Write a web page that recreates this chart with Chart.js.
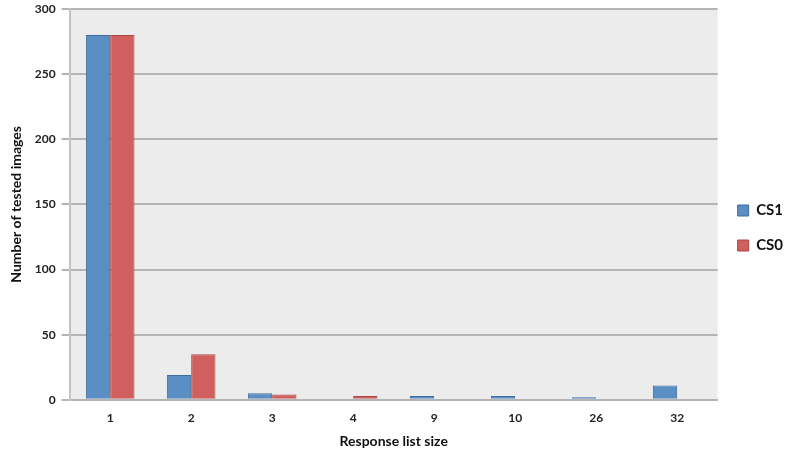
<!DOCTYPE html>
<html>
<head>
<meta charset="utf-8">
<script src="https://cdn.jsdelivr.net/npm/chart.js@4"></script>
<style>
  html, body { margin: 0; padding: 0; background: #fff; }
  #wrap { width: 797px; height: 456px; }
</style>
</head>
<body>
<div id="wrap"><canvas id="my-chart" width="797" height="456"></canvas></div>
<script>
const labels = ['1', '2', '3', '4', '9', '10', '26', '32'];
const cs1 = [280, 19, 5, 0, 3, 3, 2, 11];
const cs0 = [280, 35, 4, 3, 0, 0, 0, 0];

Chart.register({
  id: 'plot_bg',
  beforeDraw: (chart) => {
    const ctx = chart.ctx;
    const a = chart.chartArea;
    ctx.save();
    ctx.fillStyle = '#ececec';
    ctx.fillRect(a.left, a.top, a.right - a.left, a.bottom - a.top);
    ctx.restore();
  }
});

let ctx = document.getElementById('my-chart').getContext('2d');

new Chart(ctx, {
  type: 'bar',
  data: {
    labels: labels,
    datasets: [{
      label: 'CS1',
      data: cs1,
      backgroundColor: '#5b8fc4',
      borderColor: '#3f6c9c',
      borderWidth: 1
    }, {
      label: 'CS0',
      data: cs0,
      backgroundColor: '#d05f5d',
      borderColor: '#a84644',
      borderWidth: 1
    }]
  },
  options: {
    responsive: false,
    animation: false,
    layout: { padding: { top: 0, right: 4, left: 4, bottom: 0 } },
    datasets: {
      bar: { categoryPercentage: 0.6, barPercentage: 1 }
    },
    scales: {
      x: {
        grid: { display: false },
        border: { color: '#b4b4b4', width: 2 },
        ticks: { color: '#222', font: { family: 'Lato', size: 12, weight: 'bold' }, padding: 3 },
        title: { display: true, text: 'Response list size', color: '#111', padding: { top: 5, bottom: 6 }, font: { family: 'Lato', size: 14, weight: 'bold' } }
      },
      y: {
        min: 0,
        max: 300,
        afterFit: (scale) => { scale.paddingTop = 9; },
        ticks: { stepSize: 50, color: '#222', font: { family: 'Lato', size: 12, weight: 'bold' }, padding: 6 },
        grid: { color: '#b4b4b4', lineWidth: 2, tickLength: 8 },
        border: { color: '#c4c4c4', width: 2 },
        title: { display: true, text: 'Number of tested images', color: '#111', font: { family: 'Lato', size: 14, weight: 'bold' } }
      }
    },
    plugins: {
      legend: {
        position: 'right',
        labels: {
          boxWidth: 11,
          boxHeight: 11,
          padding: 20,
          color: '#111',
          font: { family: 'Lato', size: 15, weight: 'bold' }
        }
      },
      tooltip: { enabled: false }
    }
  }
});
</script>
</body>
</html>
